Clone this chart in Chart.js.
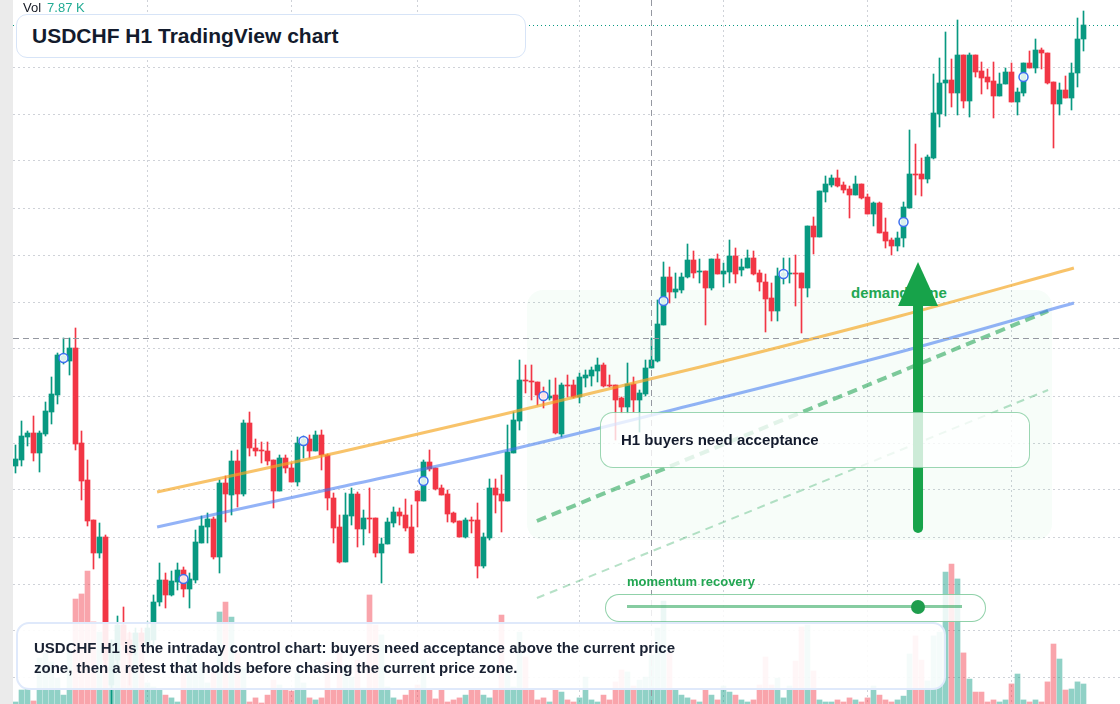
<!DOCTYPE html>
<html>
<head>
<meta charset="utf-8">
<script src="https://cdn.jsdelivr.net/npm/chart.js@4.4.1/dist/chart.umd.min.js"></script>
<style>
  body { margin: 0; background: #fff; }
  #wrap { position: relative; width: 1120px; height: 704px; overflow: hidden; background: #fff;
          font-family: "Liberation Sans", Arial, sans-serif; }
  #strip { position: absolute; left: 0; top: 0; width: 13px; height: 704px; background: #ebebeb; }
  #chart { position: absolute; left: 0; top: 0; z-index: 1; }
  .ov { position: absolute; box-sizing: border-box; z-index: 2; white-space: nowrap; }
  #zoneLabel { position: absolute; left: 851px; top: 284px; z-index: 0; font-weight: bold; font-size: 15px;
               line-height: 18px; color: #22a652; }
  #vol { left: 23px; top: 0; font-size: 13px; line-height: 16px; color: #131722; }
  #vol span { color: #22ab94; margin-left: 6px; }
  #title { left: 16px; top: 14px; width: 510px; height: 44px; background: #fff; border: 1.5px solid #d7e4f7;
           border-radius: 11px; padding-left: 15px; font-weight: bold; font-size: 21px; line-height: 41px; color: #131b2d; }
  #note { left: 16px; top: 622px; width: 930px; height: 68px; background: rgba(255,255,255,0.9);
          border: 2px solid #dfe9fb; border-radius: 13px; padding: 14px 0 0 16px; }
  #note div { max-width: 660px; white-space: normal; font-weight: bold; font-size: 15px; line-height: 20px; color: #1a2233; }
  #accept { left: 600px; top: 412px; width: 430px; height: 56px; background: rgba(255,255,255,0.78);
            border: 1.5px solid rgba(34,163,84,0.45); border-radius: 13px; padding-left: 20px;
            font-weight: bold; font-size: 15px; line-height: 53px; color: #131b2d; }
  #momLabel { left: 627px; top: 574px; font-weight: bold; font-size: 13px; line-height: 16px; color: #22a652; }
  #mom { left: 605px; top: 594px; width: 381px; height: 28px; background: rgba(255,255,255,0.82);
         border: 1.5px solid rgba(34,163,84,0.5); border-radius: 14px; }
  #track { position: absolute; left: 20.5px; top: 10px; width: 335px; height: 3px; background: rgba(34,163,84,0.55); }
  #dot { position: absolute; top: -5.5px; width: 14px; height: 14px; margin-left: -7px; border-radius: 50%; background: #1f9d4d; }
</style>
</head>
<body>
<div id="wrap">
  <div id="strip"></div>
  <div id="zoneLabel">demand zone</div>
  <canvas id="chart" width="1120" height="704"></canvas>
  <div class="ov" id="vol">Vol<span id="volValue"></span></div>
  <div class="ov" id="title">USDCHF H1 TradingView chart</div>
  <div class="ov" id="accept">H1 buyers need acceptance</div>
  <div class="ov" id="momLabel">momentum recovery</div>
  <div class="ov" id="mom"><div id="track"><div id="dot"></div></div></div>
  <div class="ov" id="note"><div>USDCHF H1 is the intraday control chart: buyers need acceptance above the current price zone, then a retest that holds before chasing the current price zone.</div></div>
</div>
<script>
// USDCHF H1 candles, oldest first
const opens = [
  0.79934,0.79940,0.79963,0.79967,0.79947,0.79966,0.79988,0.80005,0.80040,0.80039,
  0.80052,0.79957,0.79920,0.79880,0.79847,0.79863,0.79715,0.79740,0.79775,0.79760,
  0.79750,0.79767,0.79755,0.79760,0.79798,0.79820,0.79805,0.79818,0.79830,0.79811,
  0.79820,0.79857,0.79873,0.79881,0.79843,0.79917,0.79905,0.79939,0.79906,0.79977,
  0.79952,0.79950,0.79949,0.79940,0.79909,0.79942,0.79932,0.79918,0.79955,0.79961,
  0.79949,0.79965,0.79945,0.79902,0.79873,0.79838,0.79884,0.79906,0.79871,0.79882,
  0.79882,0.79847,0.79856,0.79877,0.79888,0.79885,0.79873,0.79909,0.79899,0.79938,
  0.79932,0.79912,0.79906,0.79887,0.79879,0.79863,0.79880,0.79880,0.79834,0.79862,
  0.79912,0.79906,0.79899,0.79947,0.79979,0.80020,0.80019,0.80018,0.80007,0.80002,
  0.80005,0.79966,0.80015,0.80015,0.80003,0.80022,0.80024,0.80029,0.80035,0.80015,
  0.80015,0.80002,0.79993,0.80016,0.80000,0.80006,0.80032,0.80039,0.80075,0.80123,
  0.80108,0.80110,0.80123,0.80140,0.80128,0.80129,0.80112,0.80141,0.80126,0.80128,
  0.80144,0.80130,0.80132,0.80142,0.80127,0.80118,0.80102,0.80089,0.80124,0.80126,
  0.80127,0.80127,0.80112,0.80174,0.80163,0.80208,0.80215,0.80222,0.80215,0.80211,
  0.80205,0.80216,0.80203,0.80186,0.80197,0.80168,0.80160,0.80154,0.80162,0.80192,
  0.80226,0.80226,0.80221,0.80242,0.80286,0.80317,0.80320,0.80307,0.80345,0.80299,
  0.80345,0.80329,0.80323,0.80319,0.80304,0.80316,0.80328,0.80298,0.80307,0.80337,
  0.80332,0.80350,0.80347,0.80318,0.80296,0.80310,0.80302,0.80327,0.80361
];
const highs = [
  0.79955,0.79979,0.79969,0.79984,0.79969,0.79998,0.80023,0.80047,0.80062,0.80062,
  0.80072,0.79969,0.79940,0.79880,0.79877,0.79865,0.79760,0.79784,0.79793,0.79768,
  0.79772,0.79772,0.79778,0.79805,0.79837,0.79827,0.79829,0.79837,0.79833,0.79827,
  0.79870,0.79884,0.79887,0.79883,0.79920,0.79924,0.79949,0.79950,0.79980,0.79988,
  0.79961,0.79958,0.79958,0.79940,0.79945,0.79945,0.79937,0.79963,0.79964,0.79965,
  0.79969,0.79970,0.79946,0.79907,0.79885,0.79907,0.79912,0.79908,0.79890,0.79912,
  0.79882,0.79862,0.79882,0.79893,0.79892,0.79901,0.79895,0.79909,0.79940,0.79950,
  0.79932,0.79915,0.79910,0.79888,0.79879,0.79882,0.79883,0.79897,0.79867,0.79921,
  0.79921,0.79925,0.79975,0.79988,0.80040,0.80035,0.80035,0.80018,0.80013,0.80020,
  0.80022,0.80017,0.80025,0.80020,0.80027,0.80030,0.80033,0.80042,0.80037,0.80025,
  0.80015,0.80003,0.80037,0.80023,0.80010,0.80040,0.80062,0.80100,0.80138,0.80133,
  0.80127,0.80127,0.80156,0.80149,0.80141,0.80129,0.80141,0.80146,0.80137,0.80160,
  0.80152,0.80141,0.80150,0.80149,0.80130,0.80126,0.80117,0.80132,0.80142,0.80142,
  0.80145,0.80127,0.80174,0.80183,0.80209,0.80224,0.80225,0.80230,0.80218,0.80214,
  0.80224,0.80216,0.80206,0.80198,0.80198,0.80182,0.80162,0.80168,0.80198,0.80270,
  0.80256,0.80242,0.80245,0.80326,0.80342,0.80368,0.80341,0.80380,0.80345,0.80347,
  0.80345,0.80338,0.80331,0.80338,0.80327,0.80332,0.80337,0.80312,0.80337,0.80349,
  0.80361,0.80352,0.80347,0.80318,0.80317,0.80324,0.80337,0.80382,0.80389
];
const lows = [
  0.79927,0.79934,0.79954,0.79939,0.79928,0.79964,0.79976,0.79996,0.80036,0.80025,
  0.79950,0.79900,0.79874,0.79831,0.79842,0.79735,0.79690,0.79732,0.79750,0.79715,
  0.79745,0.79752,0.79750,0.79755,0.79794,0.79792,0.79804,0.79810,0.79803,0.79792,
  0.79817,0.79857,0.79857,0.79841,0.79827,0.79878,0.79885,0.79893,0.79904,0.79944,
  0.79944,0.79937,0.79935,0.79892,0.79909,0.79927,0.79918,0.79914,0.79942,0.79942,
  0.79949,0.79930,0.79890,0.79857,0.79837,0.79838,0.79875,0.79853,0.79855,0.79867,
  0.79843,0.79817,0.79856,0.79873,0.79875,0.79869,0.79847,0.79873,0.79899,0.79929,
  0.79910,0.79905,0.79878,0.79877,0.79863,0.79862,0.79867,0.79822,0.79832,0.79860,
  0.79887,0.79868,0.79899,0.79947,0.79970,0.80007,0.80000,0.79995,0.79992,0.80000,
  0.79966,0.79963,0.80003,0.80002,0.79997,0.80013,0.80014,0.80018,0.80013,0.80013,
  0.79960,0.79987,0.79987,0.79988,0.79968,0.80004,0.80032,0.80038,0.80075,0.80097,
  0.80102,0.80107,0.80122,0.80122,0.80117,0.80075,0.80110,0.80126,0.80113,0.80117,
  0.80117,0.80124,0.80132,0.80125,0.80109,0.80068,0.80079,0.80079,0.80116,0.80117,
  0.80094,0.80067,0.80103,0.80146,0.80163,0.80198,0.80213,0.80213,0.80207,0.80182,
  0.80205,0.80201,0.80186,0.80174,0.80167,0.80152,0.80145,0.80149,0.80153,0.80192,
  0.80205,0.80204,0.80217,0.80241,0.80273,0.80284,0.80293,0.80285,0.80292,0.80283,
  0.80323,0.80306,0.80311,0.80282,0.80304,0.80316,0.80298,0.80285,0.80304,0.80332,
  0.80327,0.80331,0.80316,0.80252,0.80285,0.80302,0.80290,0.80313,0.80349
];
const closes = [
  0.79941,0.79964,0.79967,0.79947,0.79967,0.79989,0.80006,0.80045,0.80044,0.80052,
  0.79956,0.79919,0.79879,0.79847,0.79863,0.79740,0.79755,0.79775,0.79755,0.79745,
  0.79767,0.79758,0.79772,0.79798,0.79820,0.79805,0.79819,0.79830,0.79811,0.79821,
  0.79858,0.79874,0.79881,0.79843,0.79917,0.79906,0.79939,0.79906,0.79977,0.79952,
  0.79949,0.79949,0.79939,0.79909,0.79942,0.79932,0.79918,0.79957,0.79961,0.79949,
  0.79965,0.79945,0.79902,0.79872,0.79838,0.79885,0.79906,0.79871,0.79882,0.79881,
  0.79847,0.79856,0.79878,0.79888,0.79884,0.79872,0.79847,0.79899,0.79938,0.79931,
  0.79911,0.79905,0.79886,0.79878,0.79863,0.79880,0.79879,0.79834,0.79863,0.79912,
  0.79905,0.79899,0.79948,0.79980,0.80020,0.80019,0.80018,0.80005,0.80002,0.80004,
  0.79967,0.80015,0.80014,0.80003,0.80023,0.80025,0.80030,0.80035,0.80014,0.80014,
  0.80000,0.79993,0.80016,0.80000,0.80007,0.80032,0.80040,0.80076,0.80123,0.80108,
  0.80111,0.80123,0.80140,0.80127,0.80129,0.80112,0.80141,0.80126,0.80129,0.80144,
  0.80126,0.80133,0.80142,0.80126,0.80118,0.80101,0.80089,0.80124,0.80127,0.80127,
  0.80126,0.80112,0.80174,0.80163,0.80209,0.80216,0.80222,0.80214,0.80210,0.80205,
  0.80216,0.80202,0.80186,0.80197,0.80167,0.80159,0.80154,0.80162,0.80193,0.80226,
  0.80225,0.80221,0.80243,0.80287,0.80317,0.80320,0.80307,0.80345,0.80299,0.80345,
  0.80328,0.80322,0.80318,0.80304,0.80316,0.80328,0.80298,0.80308,0.80337,0.80332,
  0.80350,0.80347,0.80317,0.80296,0.80310,0.80302,0.80327,0.80361,0.80375
];
// volume, thousands
const volumes = [
  0.8,5.5,6.3,1.2,18.1,20.1,16.5,10.2,3.5,21.2,
  41.3,43.3,52.3,32.3,28.3,40.9,25.2,31.1,31.1,27.9,
  27.9,27.9,8.3,6.7,5.5,3.5,2.4,0.8,12.6,19.3,
  13.4,16.1,8.3,12.6,36.2,40.1,34.2,20.1,14.2,0.8,
  2.4,0.4,3.5,9.4,7.5,5.5,5.1,12.2,8.3,2.4,
  1.6,2.4,16.5,5.5,20.1,14.6,10.6,17.3,6.3,42.9,
  31.1,27.2,6.7,2.4,1.6,3.5,5.5,7.5,17.3,5.5,
  2.0,5.9,0.8,1.6,2.4,3.5,5.5,5.5,3.5,2.4,
  5.5,35.0,14.6,6.7,28.3,18.5,5.5,1.6,2.4,0.8,
  5.5,4.7,1.6,0.8,2.4,10.6,1.6,0.8,3.5,1.6,
  8.7,13.4,12.6,7.1,9.4,10.6,19.3,29.9,40.5,20.1,
  5.5,3.5,2.4,1.6,0.8,5.5,3.5,1.6,7.1,4.7,
  3.5,1.6,0.8,1.6,7.5,18.5,7.5,10.2,2.4,7.1,
  16.9,30.3,31.1,13.0,1.6,0.8,0.8,1.6,0.8,2.4,
  1.6,0.8,2.4,7.1,3.5,1.6,0.8,1.6,3.1,19.7,
  26.8,17.3,9.1,26.8,28.3,51.9,55.1,49.2,20.1,9.8,
  4.7,4.7,0.8,1.6,0.8,1.6,7.9,11.8,1.6,0.8,
  1.6,0.8,8.7,23.6,17.7,5.5,5.9,8.7,7.87
];

// session boundaries (bar index) and price grid
const dayTicks = [22, 46, 67, 94, 118, 142, 166];
const priceTicks = [0.80333, 0.80286, 0.80239, 0.80192, 0.80145, 0.80098, 0.80051, 0.80004,
                    0.79957, 0.79910, 0.79863, 0.79816, 0.79769, 0.79722];

// moving averages (bar index, price)
const emaFastIdx = [23.6, 54.1, 80.8, 114.1, 147.4, 176.4];
const emaFastVal = [0.79908, 0.79948, 0.79985, 0.80033, 0.80084, 0.80132];
const emaSlowIdx = [23.6, 54.1, 80.8, 114.1, 147.4, 176.4];
const emaSlowVal = [0.79873, 0.79913, 0.79948, 0.79997, 0.80048, 0.80097];

// trend channel
const channelIdx = [86.9, 172.1];
const channelUpper = [0.79879, 0.80089];
const channelLower = [0.79802, 0.80010];

// signal markers
const markerIdx = [8, 28, 48, 68, 88, 108, 128, 148, 168];
const markerVal = [0.80042, 0.79821, 0.79959, 0.79919, 0.80004, 0.80099, 0.80126, 0.80178, 0.80323];

// demand zone, arrow, crosshair
const zoneIdx = [85.25, 172.75];
const zoneVal = [0.79860, 0.80110];
const arrowIdx = 150.42;
const arrowVal = [0.79872, 0.80138];
const crossIdx = 106;
const crossVal = 0.80062;
const momentumLevel = 0.87;

const UP = '#089981', DOWN = '#f23645';
const idx = opens.map((o, i) => i);
const candleColors = idx.map(i => closes[i] >= opens[i] ? UP : DOWN);
const volColors = idx.map(i => closes[i] >= opens[i] ? 'rgba(8,153,129,0.45)' : 'rgba(242,54,69,0.45)');

document.getElementById('volValue').textContent = volumes[volumes.length - 1].toFixed(2) + ' K';
document.getElementById('dot').style.left = (momentumLevel * 100) + '%';

const overlay = {
  id: 'overlay',
  beforeDatasetsDraw(chart) {
    const { ctx, scales: { x, y } } = chart;
    const x0 = x.getPixelForValue(zoneIdx[0]), x1 = x.getPixelForValue(zoneIdx[1]);
    const y0 = y.getPixelForValue(zoneVal[1]), y1 = y.getPixelForValue(zoneVal[0]);
    ctx.save();
    ctx.fillStyle = 'rgba(34,197,94,0.035)';
    ctx.beginPath();
    ctx.roundRect(x0, y0, x1 - x0, y1 - y0, 16);
    ctx.fill();
    ctx.restore();
  },
  afterDatasetsDraw(chart) {
    const { ctx, chartArea: a, scales: { x, y } } = chart;
    ctx.save();
    // last price line
    const py = Math.round(y.getPixelForValue(closes[closes.length - 1])) + 0.5;
    ctx.strokeStyle = UP;
    ctx.lineWidth = 1;
    ctx.setLineDash([1, 3]);
    ctx.beginPath(); ctx.moveTo(a.left, py); ctx.lineTo(a.right, py); ctx.stroke();
    // crosshair
    ctx.strokeStyle = '#9598a1';
    ctx.setLineDash([6, 4]);
    const cx = Math.round(x.getPixelForValue(crossIdx) - 0.5) + 0.5;
    const cy = Math.round(y.getPixelForValue(crossVal)) + 0.5;
    ctx.beginPath(); ctx.moveTo(cx, a.top); ctx.lineTo(cx, a.bottom); ctx.stroke();
    ctx.beginPath(); ctx.moveTo(a.left, cy); ctx.lineTo(a.right, cy); ctx.stroke();
    // arrow
    ctx.setLineDash([]);
    const ax = x.getPixelForValue(arrowIdx);
    const yb = y.getPixelForValue(arrowVal[0]), yt = y.getPixelForValue(arrowVal[1]);
    ctx.strokeStyle = '#17a34a';
    ctx.fillStyle = '#17a34a';
    ctx.lineWidth = 10;
    ctx.lineCap = 'round';
    ctx.beginPath(); ctx.moveTo(ax, yb); ctx.lineTo(ax, yt + 40); ctx.stroke();
    ctx.beginPath();
    ctx.moveTo(ax, yt); ctx.lineTo(ax + 20, yt + 44); ctx.lineTo(ax - 20, yt + 44);
    ctx.closePath(); ctx.fill();
    ctx.restore();
  }
};

const gridColor = '#cfd2d8';

new Chart(document.getElementById('chart'), {
  type: 'bar',
  data: {
    datasets: [
      {
        type: 'line', label: 'signals', order: 0,
        data: markerIdx.map((v, i) => ({ x: v, y: markerVal[i] })),
        showLine: false, pointRadius: 4.5, pointBorderWidth: 1.5,
        pointBorderColor: '#3d6ff0', pointBackgroundColor: 'rgba(255,255,255,0.85)'
      },
      {
        type: 'line', label: 'EMA fast', order: 1,
        data: emaFastIdx.map((v, i) => ({ x: v, y: emaFastVal[i] })),
        borderColor: 'rgba(245,166,35,0.68)', borderWidth: 3, pointRadius: 0,
        cubicInterpolationMode: 'monotone'
      },
      {
        type: 'line', label: 'EMA slow', order: 1,
        data: emaSlowIdx.map((v, i) => ({ x: v, y: emaSlowVal[i] })),
        borderColor: 'rgba(59,116,240,0.55)', borderWidth: 3, pointRadius: 0,
        cubicInterpolationMode: 'monotone'
      },
      {
        type: 'line', label: 'channel upper', order: 2,
        data: channelIdx.map((v, i) => ({ x: v, y: channelUpper[i] })),
        borderColor: 'rgba(34,163,84,0.58)', borderWidth: 4, borderDash: [10, 6], pointRadius: 0
      },
      {
        type: 'line', label: 'channel lower', order: 2,
        data: channelIdx.map((v, i) => ({ x: v, y: channelLower[i] })),
        borderColor: 'rgba(34,163,84,0.33)', borderWidth: 2, borderDash: [8, 6], pointRadius: 0
      },
      {
        label: 'bodies', order: 3,
        data: idx.map(i => ({ x: i, y: [opens[i], closes[i]] })),
        backgroundColor: candleColors, barThickness: 5, minBarLength: 1, grouped: false
      },
      {
        label: 'wicks', order: 4,
        data: idx.map(i => ({ x: i, y: [lows[i], highs[i]] })),
        backgroundColor: candleColors, barThickness: 1, grouped: false
      },
      {
        label: 'volume', order: 5, yAxisID: 'yv',
        data: idx.map(i => ({ x: i, y: volumes[i] })),
        backgroundColor: volColors, barThickness: 5, grouped: false
      }
    ]
  },
  options: {
    responsive: false,
    animation: false,
    devicePixelRatio: 1,
    events: [],
    layout: { autoPadding: false, padding: { left: 13, right: 0, top: 0, bottom: 0 } },
    plugins: { legend: { display: false }, tooltip: { enabled: false } },
    scales: {
      x: {
        type: 'linear', bounds: 'data', offset: false,
        min: -2.5 / 6, max: -2.5 / 6 + 1107 / 6,
        afterBuildTicks: s => { s.ticks = dayTicks.map(v => ({ value: v })); },
        afterFit: s => { s.height = 0; },
        ticks: { display: false },
        grid: { color: gridColor, drawTicks: false, offset: false },
        border: { display: false, dash: [2, 3] }
      },
      y: {
        type: 'linear', position: 'left', bounds: 'data', beginAtZero: false,
        min: 0.79696, max: 0.80400,
        afterBuildTicks: s => { s.ticks = priceTicks.map(v => ({ value: v })); },
        afterFit: s => { s.width = 0; },
        ticks: { display: false },
        grid: { color: gridColor, drawTicks: false },
        border: { display: false, dash: [2, 3] }
      },
      yv: {
        type: 'linear', position: 'right', display: false,
        min: 0, max: 277
      }
    }
  },
  plugins: [overlay]
});
</script>
</body>
</html>
